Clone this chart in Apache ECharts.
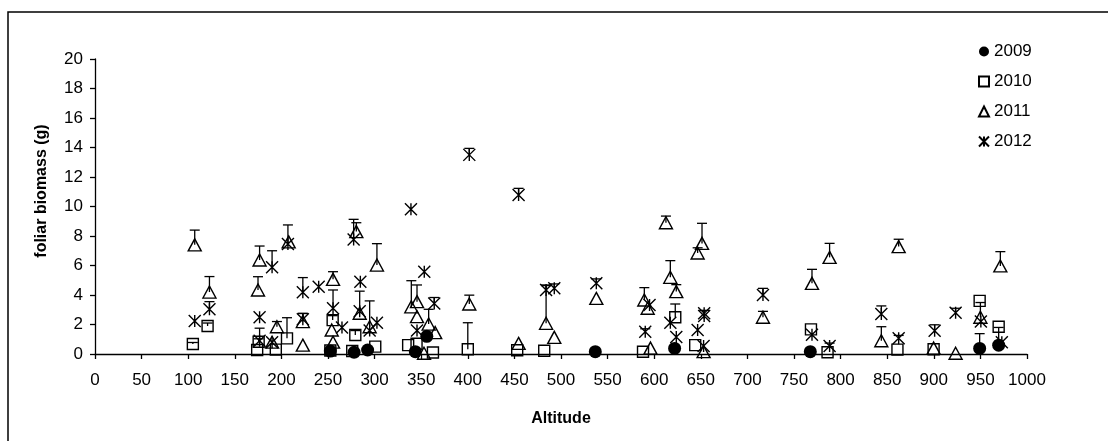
<!DOCTYPE html>
<html>
<head>
<meta charset="utf-8">
<script src="https://cdn.jsdelivr.net/npm/echarts@6/dist/echarts.min.js"></script>
<style>
  html, body { margin: 0; padding: 0; background: #fff; }
  #chart { width: 1108px; height: 441px; }
</style>
</head>
<body>
<div id="chart"></div>
<script>
// Altitude (x), foliar biomass (y) and upper error (+) for each year
const alt2009 = [252.5, 278, 292.5, 343.7, 356, 536.8, 621.9, 767.5, 949.2, 969.6];
const bio2009 = [0.2, 0.12, 0.27, 0.16, 1.2, 0.16, 0.38, 0.16, 0.38, 0.6];
const err2009 = [0, 0, 0, 0, 0, 0, 0.2, 0, 1.0, 1.2];

const alt2010 = [105, 120.8, 174, 175.6, 194, 206, 252.5, 255, 276, 279.3, 300.7, 336, 345, 362.6, 400, 453, 482, 588, 622.6, 644, 768.2, 786, 861, 899.8, 949.2, 969.6];
const bio2010 = [0.68, 1.9, 0.27, 0.83, 0.3, 1.06, 0.24, 2.3, 0.2, 1.29, 0.5, 0.6, 0.7, 0.1, 0.32, 0.25, 0.22, 0.15, 2.49, 0.6, 1.67, 0.12, 0.3, 0.32, 3.6, 1.85];
const err2010 = [0.1, 0.2, 0, 0.2, 0, 1.4, 0, 0.3, 0, 0.3, 0, 0, 0, 0, 1.8, 0, 0, 0, 0.9, 0, 0, 0, 0, 0, 0, 0];

const alt2011 = [107, 122.8, 174.9, 176.6, 190, 195.2, 207.8, 223, 223, 255.4, 254, 255.4, 280.4, 284, 294.7, 302.5, 339.4, 345.5, 345.5, 358, 365, 353, 401.6, 454.5, 484, 492.8, 537.9, 589.4, 593, 596, 612.6, 617.3, 623.7, 646.6, 651.3, 653, 716.7, 769.3, 788.2, 843.7, 862.3, 899.8, 923.4, 950, 971.4];
const bio2011 = [7.4, 4.2, 4.34, 6.37, 0.8, 1.85, 7.6, 2.2, 0.6, 5.06, 1.63, 0.8, 8.3, 2.76, 1.85, 6.03, 3.2, 3.55, 2.53, 2.03, 1.45, 0.05, 3.39, 0.72, 2.08, 1.13, 3.77, 3.66, 3.1, 0.4, 8.9, 5.2, 4.23, 6.85, 7.5, 0.16, 2.49, 4.79, 6.55, 0.9, 7.28, 0.4, 0.05, 2.49, 5.97];
const err2011 = [1.0, 1.05, 0.9, 0.95, 0, 0.35, 0, 0.55, 0, 0.52, 0, 0, 0.6, 1.5, 1.75, 1.45, 1.77, 1.13, 0, 1.0, 0, 0, 0.6, 0, 2.6, 0, 0, 0.84, 0, 0, 0.45, 1.13, 0.47, 0.35, 1.36, 0, 0.4, 0.95, 0.95, 0.95, 0.5, 0, 0, 1.0, 0.97];

const alt2012 = [107, 122.8, 176.6, 176.6, 190, 190, 207, 223, 223, 240, 255.4, 265, 277.5, 284.7, 284, 294.7, 302.5, 339, 353.3, 364, 345.5, 401.6, 454.5, 484, 492.8, 537.9, 595, 590.4, 617.3, 623.7, 646.6, 653.6, 653.6, 653, 716.7, 769.3, 788.2, 843.7, 862.3, 900.9, 923.4, 950.5, 973];
const bio2012 = [2.24, 3.03, 2.49, 0.9, 5.88, 0.8, 7.45, 4.18, 2.35, 4.56, 3.1, 1.8, 7.77, 4.9, 2.9, 1.6, 2.12, 9.81, 5.58, 3.43, 1.6, 13.5, 10.78, 4.34, 4.45, 4.79, 3.32, 1.51, 2.12, 1.15, 1.63, 2.76, 2.58, 0.54, 4.0, 1.3, 0.54, 2.71, 1.06, 1.58, 2.8, 2.2, 0.8];
const err2012 = [0, 0.52, 0, 0.85, 1.12, 0, 1.3, 1.0, 0.4, 0, 1.24, 0, 1.36, 0, 0, 0, 0, 0, 0, 0.4, 0, 0.44, 0.45, 0.3, 0.3, 0.3, 0, 0.2, 0, 0, 0, 0.2, 0, 0, 0.45, 0, 0.2, 0.55, 0.2, 0.4, 0.3, 0, 0];

const years = ['2009', '2010', '2011', '2012'];
const xTicks = { min: 0, max: 1000, step: 50 };
const yTicks = { min: 0, max: 20, step: 2 };

const FONT = 'Liberation Sans, Arial, sans-serif';
const ASTERISK = 'path://M0,0L10,10M10,0L0,10M5,0L5,10';

function points(xs, ys) {
  return xs.map((x, i) => [x, ys[i]]);
}
function bars(xs, ys, es) {
  const out = [];
  xs.forEach((x, i) => { if (es[i] > 0) out.push([x, ys[i], ys[i] + es[i]]); });
  return out;
}

// Upper error bar: vertical stem from the point plus a short cap
function renderErr(params, api) {
  const p = api.coord([api.value(0), api.value(1)]);
  const t = api.coord([api.value(0), api.value(2)]);
  const w = 5;
  const st = { stroke: '#000', lineWidth: 1.3 };
  return {
    type: 'group',
    children: [
      { type: 'line', shape: { x1: p[0], y1: p[1], x2: t[0], y2: t[1] }, style: st },
      { type: 'line', shape: { x1: t[0] - w, y1: t[1], x2: t[0] + w, y2: t[1] }, style: st }
    ]
  };
}

function errSeries(xs, ys, es) {
  return {
    type: 'custom',
    renderItem: renderErr,
    data: bars(xs, ys, es),
    encode: { x: 0, y: [1, 2] },
    z: 1,
    silent: true
  };
}

const chart = echarts.init(document.getElementById('chart'), null, { renderer: 'canvas' });

chart.setOption({
  animation: false,
  backgroundColor: '#fff',
  textStyle: { fontFamily: FONT, color: '#000' },
  grid: { left: 95, right: 81, top: 59, bottom: 87, containLabel: false },
  legend: {
    data: years,
    orient: 'vertical',
    left: 973,
    top: 38,
    itemWidth: 10,
    itemHeight: 10,
    itemGap: 13,
    textStyle: { fontFamily: FONT, fontSize: 17, color: '#000' }
  },
  xAxis: {
    type: 'value',
    min: xTicks.min,
    max: xTicks.max,
    interval: xTicks.step,
    name: 'Altitude',
    nameLocation: 'middle',
    nameGap: 57,
    nameTextStyle: { fontFamily: FONT, fontSize: 16, fontWeight: 'bold', color: '#000' },
    axisLine: { lineStyle: { color: '#000', width: 1.3 } },
    axisTick: { show: true, inside: false, length: 5, lineStyle: { color: '#000', width: 1.3 } },
    axisLabel: { fontFamily: FONT, fontSize: 17, color: '#000', margin: 18, formatter: v => String(v) },
    splitLine: { show: false }
  },
  yAxis: {
    type: 'value',
    min: yTicks.min,
    max: yTicks.max,
    interval: yTicks.step,
    axisLine: { show: true, lineStyle: { color: '#000', width: 1.3 } },
    axisTick: { show: true, inside: false, length: 5, lineStyle: { color: '#000', width: 1.3 } },
    axisLabel: { fontFamily: FONT, fontSize: 17, color: '#000', margin: 12, formatter: v => String(v) },
    splitLine: { show: false }
  },
  graphic: [
    {
      type: 'rect',
      shape: { x: 8, y: 12, width: 1300, height: 700 },
      style: { fill: 'none', stroke: '#000', lineWidth: 1.5 },
      silent: true
    },
    {
      type: 'text',
      x: 42,
      y: 191,
      rotation: Math.PI / 2,
      style: {
        text: 'foliar biomass (g)',
        font: 'bold 16px ' + FONT,
        fill: '#000',
        textAlign: 'center',
        textVerticalAlign: 'middle'
      }
    }
  ],
  series: [
    errSeries(alt2009, bio2009, err2009),
    errSeries(alt2010, bio2010, err2010),
    errSeries(alt2011, bio2011, err2011),
    errSeries(alt2012, bio2012, err2012),
    {
      name: '2009', type: 'scatter', data: points(alt2009, bio2009),
      symbol: 'circle', symbolSize: 13, z: 3,
      itemStyle: { color: '#000', borderColor: '#000', borderWidth: 0, opacity: 1 }
    },
    {
      name: '2010', type: 'scatter', data: points(alt2010, bio2010),
      symbol: 'rect', symbolSize: 11, z: 3,
      itemStyle: { color: 'rgba(0,0,0,0)', borderColor: '#000', borderWidth: 1.4, opacity: 1 }
    },
    {
      name: '2011', type: 'scatter', data: points(alt2011, bio2011),
      symbol: 'triangle', symbolSize: [13, 12], z: 3,
      itemStyle: { color: 'rgba(0,0,0,0)', borderColor: '#000', borderWidth: 1.4, opacity: 1 }
    },
    {
      name: '2012', type: 'scatter', data: points(alt2012, bio2012),
      symbol: ASTERISK, symbolSize: 12, z: 3,
      itemStyle: { color: 'rgba(0,0,0,0)', borderColor: '#000', borderWidth: 1.4, opacity: 1 }
    }
  ]
});
</script>
</body>
</html>
